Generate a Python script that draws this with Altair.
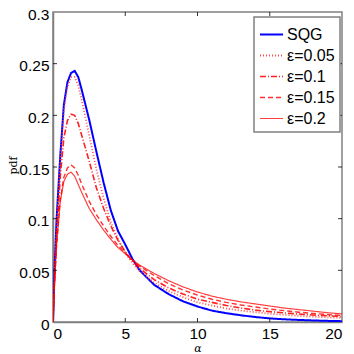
import altair as alt
import pandas as pd

alpha = [0, 0.1, 0.25, 0.5, 0.75, 1.0, 1.25, 1.5, 1.75, 2.0, 2.5, 3.0, 3.5, 4.0, 4.5, 5.0,
         5.5, 6.0, 7.0, 8.0, 9.0, 10.0, 11.0, 12.0, 13.0, 14.0, 15.0, 16.0, 17.0, 18.0, 19.0, 20.0]

sqg = [0, 0.05, 0.1, 0.16, 0.21, 0.232, 0.241, 0.243, 0.237, 0.224, 0.196, 0.165, 0.135, 0.108,
       0.088, 0.075, 0.061, 0.05, 0.036, 0.027, 0.02, 0.015, 0.011, 0.0085, 0.0065, 0.0048,
       0.0035, 0.0026, 0.002, 0.0015, 0.0011, 0.0008]
e005 = [0, 0.04, 0.09, 0.155, 0.205, 0.228, 0.237, 0.237, 0.229, 0.214, 0.181, 0.148, 0.12, 0.097,
        0.08, 0.067, 0.057, 0.049, 0.038, 0.03, 0.024, 0.019, 0.016, 0.013, 0.011, 0.0095,
        0.008, 0.007, 0.006, 0.0052, 0.0045, 0.004]
e010 = [0, 0.04, 0.085, 0.14, 0.178, 0.195, 0.201, 0.2, 0.192, 0.18, 0.156, 0.13, 0.11, 0.093,
        0.079, 0.068, 0.059, 0.052, 0.041, 0.033, 0.027, 0.022, 0.019, 0.016, 0.0135, 0.0115,
        0.01, 0.0088, 0.0077, 0.0068, 0.006, 0.0053]
e015 = [0, 0.035, 0.075, 0.118, 0.14, 0.149, 0.152, 0.149, 0.142, 0.133, 0.117, 0.104, 0.093, 0.083,
        0.074, 0.067, 0.06, 0.054, 0.045, 0.037, 0.031, 0.026, 0.022, 0.019, 0.0165, 0.0145,
        0.0125, 0.011, 0.0095, 0.0083, 0.0072, 0.0063]
e020 = [0, 0.035, 0.075, 0.116, 0.136, 0.143, 0.145, 0.141, 0.133, 0.125, 0.11, 0.099, 0.089, 0.08,
        0.072, 0.066, 0.06, 0.055, 0.047, 0.04, 0.034, 0.029, 0.025, 0.022, 0.0195, 0.0175,
        0.0155, 0.0135, 0.012, 0.0105, 0.009, 0.0078]

series_names = ["SQG", "ε=0.05", "ε=0.1", "ε=0.15", "ε=0.2"]
series_vals = [sqg, e005, e010, e015, e020]
colors = ["#0000ff", "#ff4040", "#ff0000", "#ff0000", "#ff0000"]
dashes = [[1, 0], [1, 2], [6, 2, 1, 2], [5, 3], [1, 0]]
widths = [2, 1.2, 1.5, 1.7, 1.8]
opac = [1, 0.75, 0.9, 0.95, 1]

x_ticks = [0, 5, 10, 15, 20]
y_ticks = [0, 0.05, 0.1, 0.15, 0.2, 0.25, 0.3]

rows = []
for name, vals in zip(series_names, series_vals):
    for a, v in zip(alpha, vals):
        rows.append({"alpha": a, "pdf": v, "series": name})
df = pd.DataFrame(rows)

W, H = 289, 310

xs = alt.Scale(domain=[0, 20], nice=False)
ys = alt.Scale(domain=[0, 0.3], nice=False)

lines = alt.Chart(df).mark_line(clip=True).encode(
    x=alt.X("alpha:Q", scale=xs,
            axis=alt.Axis(values=x_ticks, title="α", format="d", ticks=False,
                          titleFont="DejaVu Serif", titleFontStyle="italic",
                          titleFontWeight="normal", titleFontSize=11, titlePadding=1)),
    y=alt.Y("pdf:Q", scale=ys,
            axis=alt.Axis(values=y_ticks, title="pdf", ticks=False, format="~g",
                          labelOffset=2,
                          titleFont="DejaVu Serif", titleFontWeight="normal",
                          titleFontSize=11, titleX=-35, titleY=153, titleAngle=270,
                          titleBaseline="bottom", titleAlign="center")),
    color=alt.Color("series:N", scale=alt.Scale(domain=series_names, range=colors),
                    sort=series_names, title=None),
    strokeDash=alt.StrokeDash("series:N", scale=alt.Scale(domain=series_names, range=dashes),
                              sort=series_names, title=None),
    strokeWidth=alt.StrokeWidth("series:N", scale=alt.Scale(domain=series_names, range=widths),
                                sort=series_names, title=None),
    opacity=alt.Opacity("series:N", scale=alt.Scale(domain=series_names, range=opac),
                        sort=series_names, title=None),
    order=alt.Order("alpha:Q"),
)

xt = pd.DataFrame({"t": x_ticks[1:-1]})
yt = pd.DataFrame({"t": y_ticks[1:-1]})
tick_col = "#000000"
xb = alt.Chart(xt).mark_rule(color=tick_col, strokeWidth=0.8).encode(
    x=alt.X("t:Q", scale=xs), y=alt.value(H), y2=alt.value(H - 4))
xtop = alt.Chart(xt).mark_rule(color=tick_col, strokeWidth=0.8).encode(
    x=alt.X("t:Q", scale=xs), y=alt.value(0), y2=alt.value(4))
yl = alt.Chart(yt).mark_rule(color=tick_col, strokeWidth=0.8).encode(
    y=alt.Y("t:Q", scale=ys), x=alt.value(0), x2=alt.value(4))
yr = alt.Chart(yt).mark_rule(color=tick_col, strokeWidth=0.8).encode(
    y=alt.Y("t:Q", scale=ys), x=alt.value(W), x2=alt.value(W - 4))

chart = alt.layer(lines, xb, xtop, yl, yr).properties(
    width=W, height=H,
    autosize=alt.AutoSizeParams(type="none"),
    padding={"left": 45, "top": 4, "right": 4, "bottom": 32},
).configure_view(
    stroke="#808080", strokeWidth=1.5
).configure_axis(
    grid=False, domainColor="#808080", domainWidth=1.5,
    labelFont="Liberation Sans", labelFontSize=15.5, labelColor="black",
    labelPadding=4, titleColor="black",
).configure_axisY(labelPadding=4).configure_legend(
    orient="none", legendX=201, legendY=5,
    fillColor="white", strokeColor="#808080", strokeWidth=1.5,
    padding=5, cornerRadius=0,
    labelFont="Liberation Sans", labelFontSize=16, labelColor="black",
    symbolType="stroke", symbolSize=529, symbolStrokeWidth=1.5,
    rowPadding=0, labelOffset=3,
)

chart.save("out.html", embed_options={"renderer": "svg", "actions": False})
